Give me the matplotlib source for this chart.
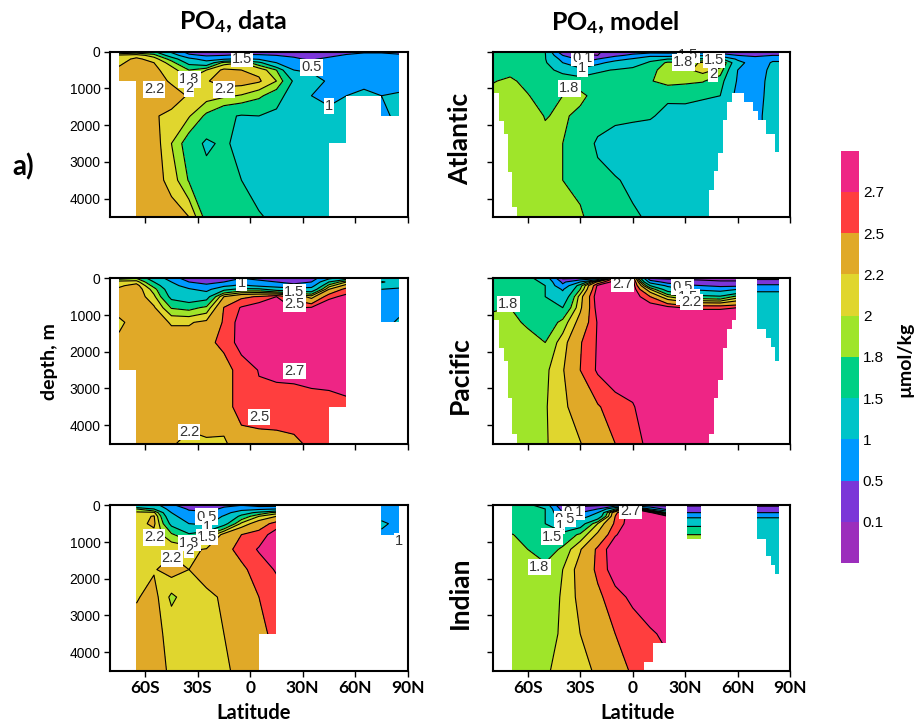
#!/usr/bin/env python3
import numpy as np
import matplotlib as mpl
mpl.use('Agg')
import matplotlib.pyplot as plt
from matplotlib.colors import ListedColormap, BoundaryNorm

plt.rcParams['font.family'] = ['Liberation Sans', 'DejaVu Sans']
plt.rcParams['mathtext.fontset'] = 'custom'
plt.rcParams['mathtext.rm'] = 'Lato:bold'
plt.rcParams['mathtext.default'] = 'rm'

# contour levels and their colours (umol/kg)
levels = [0.1, 0.5, 1, 1.5, 1.8, 2, 2.2, 2.5, 2.7]
level_names = ['0.1', '0.5', '1', '1.5', '1.8', '2', '2.2', '2.5', '2.7']
colors = ['#9C2EBC', '#7B36D8', '#0099FF', '#00C4C8', '#00D084',
          '#9FE52A', '#E0D62E', '#E0A928', '#FF3E3E', '#EE2585']

depth = [0, 100, 200, 300, 500, 800, 1200, 1750, 2500, 3500, 4500]
lat_data = list(range(-75, 86, 10))
lat_model = list(range(-80, 91, 10))
tick_lat = [-60, -30, 0, 30, 60, 90]
tick_names = ['60S', '30S', '0', '30N', '60N', '90N']
tick_depth = [0, 1000, 2000, 3000, 4000]

blank = [np.nan] * 11

# one row per latitude, one value per depth
atlantic_data = [
    [1.5, 2.05, 2.1, 2.15, 2.25, 2.3, 2.3, 2.3, 2.3, 2.3, 2.3],
    [1.6, 2.1, 2.25, 2.3, 2.35, 2.35, 2.4, 2.4, 2.35, 2.3, 2.3],
    [1.55, 1.9, 2.1, 2.2, 2.25, 2.3, 2.25, 2.22, 2.32, 2.3, 2.35],
    [.9, 1.3, 1.7, 1.9, 2.1, 2.17, 2.3, 2.15, 2.0, 2.12, 2.3],
    [.3, .6, 1.15, 1.4, 1.8, 2.05, 2.18, 2.02, 1.66, 1.78, 2.2],
    [.3, .45, .8, 1.2, 2.0, 2.18, 2.1, 1.75, 1.45, 1.6, 1.7],
    [.3, .5, .95, 1.9, 2.25, 2.3, 2.04, 1.55, 1.55, 1.6, 1.6],
    [.35, .55, 1.1, 2.0, 2.2, 2.3, 1.98, 1.48, 1.4, 1.5, 1.55],
    [.3, .55, .95, 1.6, 2.15, 2.23, 1.85, 1.5, 1.3, 1.4, 1.52],
    [.3, .5, .75, 1.0, 1.8, 2.0, 1.65, 1.42, 1.3, 1.3, 1.45],
    [.09, .45, .55, .7, 1.0, 1.45, 1.3, 1.2, 1.25, 1.25, 1.35],
    [.09, .35, .45, .6, .95, 1.15, 1.0, 1.1, 1.2, 1.2, 1.3],
    [.25, .4, .6, .7, .8, .95, .9, 1.1, 1.2, 1.2, 1.3],
    [.35, .55, .65, .7, .75, .9, 1.0, 1.1, 1.1, 1.1, 1.1],
    [.45, .6, .65, .7, .8, .9, 1.08, 1.1, 1.1, 1.1, 1.1],
    [.45, .6, .65, .7, .8, .85, 1.0, .9, .9, .9, .9],
    [.4, .55, .65, .7, .8, .9, 1.03, 1.1, 1.1, 1.1, 1.1],
]
pacific_data = [
    [1.7, 2.1, 2.15, 2.25, 2.3, 2.3, 2.15, 2.25, 2.3, 2.3, 2.3],
    [1.8, 2.1, 2.3, 2.35, 2.35, 2.35, 2.3, 2.3, 2.3, 2.3, 2.3],
    [1.3, 1.5, 1.7, 1.9, 2.05, 2.23, 2.3, 2.32, 2.32, 2.3, 2.3],
    [.8, 1.0, 1.15, 1.25, 1.4, 1.78, 2.18, 2.3, 2.35, 2.3, 2.22],
    [.2, .5, .8, 1.05, 1.25, 1.72, 2.18, 2.3, 2.32, 2.3, 2.15],
    [.2, .35, .6, .85, 1.35, 1.85, 2.25, 2.45, 2.35, 2.3, 2.18],
    [.3, .5, .9, 1.4, 2.2, 2.51, 2.53, 2.55, 2.42, 2.4, 2.15],
    [.5, .8, 1.1, 1.6, 2.45, 2.72, 2.8, 2.8, 2.58, 2.6, 2.4],
    [.4, .6, .9, 1.6, 2.52, 2.85, 2.85, 2.85, 2.71, 2.65, 2.4],
    [.3, .5, .8, 1.3, 2.7, 2.85, 2.85, 2.85, 2.73, 2.64, 2.42],
    [.2, .4, .6, 1.2, 2.4, 2.68, 2.85, 2.85, 2.73, 2.65, 2.45],
    [.3, .5, .8, 1.2, 2.1, 2.72, 2.85, 2.85, 2.74, 2.66, 2.55],
    [.9, 1.5, 1.9, 2.2, 2.65, 2.85, 2.85, 2.85, 2.75, 2.66, 2.55],
    [1.3, 2.0, 2.3, 2.6, 2.75, 2.85, 2.85, 2.85, 2.75, 2.68, 2.6],
    blank,
    [1.2, 1.55, 1.3, 1.0, .9, .7, .75, .8, .8, .8, .8],
    [1.2, 1.3, 1.1, .95, .75, .8, 1.1, 1.1, 1.1, 1.1, 1.1],
]
indian_data = [
    blank,
    [1.0, 1.8, 2.05, 2.1, 2.12, 2.15, 2.2, 2.17, 2.18, 2.3, 2.3],
    [1.2, 1.5, 2.05, 2.22, 2.25, 2.12, 2.15, 2.18, 2.28, 2.25, 2.25],
    [.6, .8, 1.0, 1.15, 1.4, 1.85, 2.15, 2.3, 1.95, 2.15, 2.18],
    [.2, .45, .6, .7, 1.0, 1.55, 2.15, 2.2, 2.12, 2.1, 2.1],
    [.2, .4, .55, .6, .9, 1.75, 2.22, 2.3, 2.15, 2.12, 2.12],
    [.45, .55, .8, 1.05, 1.35, 2.3, 2.42, 2.35, 2.23, 2.2, 2.17],
    [.5, .8, 1.3, 1.6, 2.05, 2.5, 2.58, 2.45, 2.38, 2.3, 2.25],
    [.3, .9, 1.6, 2.0, 2.35, 2.6, 2.72, 2.6, 2.5, 2.45, 2.4],
    [.3, 1.0, 1.9, 2.2, 2.6, 2.8, 2.85, 2.72, 2.6, 2.55, 2.4],
    blank, blank, blank, blank, blank,
    [.8, .8, .8, .85, 1.1, .9, .95, .95, .95, .95, .95],
    [.9, .75, .8, .8, .85, .9, 1.0, 1.0, 1.0, 1.0, 1.0],
]
atlantic_model = [
    [1.6, 1.62, 1.62, 1.65, 1.7, 1.79, 1.85, 1.85, 1.85, 1.85, 1.85],
    [1.6, 1.6, 1.62, 1.65, 1.75, 1.83, 1.85, 1.9, 1.9, 1.9, 1.9],
    [1.6, 1.6, 1.62, 1.62, 1.65, 1.75, 1.81, 1.9, 1.92, 1.92, 1.92],
    [1.5, 1.52, 1.52, 1.55, 1.6, 1.65, 1.72, 1.79, 1.85, 1.9, 1.9],
    [.1, .5, .85, 1.0, 1.4, 1.7, 1.8, 1.83, 1.8, 1.8, 1.9],
    [.05, .15, .4, .5, 1.2, 1.7, 1.85, 1.75, 1.7, 1.7, 1.85],
    [.05, .1, .5, .85, 1.45, 1.65, 1.72, 1.65, 1.45, 1.58, 1.62],
    [.3, .4, .8, 1.2, 1.52, 1.7, 1.68, 1.58, 1.35, 1.52, 1.58],
    [.3, .6, 1.05, 1.3, 1.6, 1.7, 1.65, 1.56, 1.3, 1.45, 1.53],
    [.3, .85, 1.4, 1.55, 1.72, 1.78, 1.65, 1.53, 1.3, 1.3, 1.47],
    [.3, .8, 1.5, 1.85, 1.92, 1.9, 1.55, 1.42, 1.28, 1.25, 1.2],
    [.3, .9, 1.5, 1.85, 1.95, 1.85, 1.6, 1.35, 1.25, 1.2, 1.2],
    [.3, .95, 1.55, 2.05, 2.08, 1.82, 1.55, 1.3, 1.2, 1.2, 1.2],
    [.2, .8, 1.6, 2.12, 1.95, 1.65, 1.5, 1.2, 1.2, 1.2, 1.2],
    [.1, .5, .9, 1.2, 1.0, .95, .85, .85, .85, .85, .85],
    [.25, .45, .6, .7, .8, .85, .85, .9, .9, .9, .9],
    [.25, .5, .9, 1.05, 1.1, 1.12, 1.15, 1.15, 1.15, 1.15, 1.15],
    [.25, .5, .9, 1.05, 1.1, 1.12, 1.15, 1.15, 1.15, 1.15, 1.15],
]
pacific_model = [
    [1.6, 1.62, 1.62, 1.65, 1.68, 1.78, 1.85, 1.88, 1.9, 1.9, 1.9],
    [1.6, 1.6, 1.6, 1.62, 1.7, 1.8, 1.85, 1.88, 1.9, 1.9, 1.9],
    [1.6, 1.6, 1.6, 1.62, 1.65, 1.7, 1.77, 1.87, 1.9, 1.9, 1.9],
    [1.3, 1.45, 1.5, 1.5, 1.5, 1.6, 1.6, 1.8, 1.95, 1.98, 1.98],
    [.05, .4, .6, .95, 1.2, 1.5, 1.88, 2.1, 2.18, 2.15, 2.1],
    [.1, 1.0, 1.7, 1.8, 2.1, 2.15, 2.3, 2.48, 2.5, 2.32, 2.19],
    [.3, 2.3, 2.75, 2.8, 2.85, 2.8, 2.72, 2.72, 2.73, 2.48, 2.35],
    [2.6, 2.85, 2.85, 2.85, 2.85, 2.85, 2.85, 2.85, 2.85, 2.6, 2.5],
    [2.7, 2.85, 2.85, 2.85, 2.85, 2.85, 2.85, 2.85, 2.85, 2.68, 2.63],
    [.1, .8, 1.5, 2.0, 2.5, 2.85, 2.85, 2.85, 2.85, 2.85, 2.75],
    [.05, .3, .9, 1.3, 2.0, 2.78, 2.85, 2.85, 2.85, 2.85, 2.85],
    [.05, .2, .6, 1.0, 1.8, 2.68, 2.85, 2.85, 2.85, 2.85, 2.85],
    [.05, .15, .5, .9, 1.6, 2.68, 2.85, 2.85, 2.85, 2.85, 2.85],
    [.05, .12, .4, .8, 1.55, 2.68, 2.85, 2.85, 2.85, 2.85, 2.85],
    [.05, .12, .4, 1.0, 1.9, 2.7, 2.85, 2.85, 2.85, 2.85, 2.85],
    [.05, .2, .6, .95, 1.1, 1.15, 1.2, 1.2, 1.2, 1.2, 1.2],
    [.05, .2, .6, .95, 1.1, 1.15, 1.2, 1.2, 1.2, 1.2, 1.2],
    [.05, .2, .6, .95, 1.1, 1.15, 1.2, 1.2, 1.2, 1.2, 1.2],
]
indian_model = [
    blank,
    [1.6, 1.6, 1.62, 1.62, 1.65, 1.82, 1.85, 1.9, 1.9, 1.9, 1.9],
    [1.6, 1.6, 1.6, 1.62, 1.62, 1.72, 1.8, 1.88, 1.9, 1.9, 1.9],
    [1.3, 1.5, 1.5, 1.5, 1.5, 1.6, 1.65, 1.88, 1.9, 1.92, 1.97],
    [.05, .3, .5, .7, 1.15, 1.6, 1.85, 2.0, 2.02, 2.03, 2.07],
    [.05, .2, .5, .8, 1.3, 1.85, 2.18, 2.3, 2.27, 2.2, 2.12],
    [.05, .5, 1.0, 1.2, 2.0, 2.25, 2.55, 2.55, 2.45, 2.37, 2.24],
    [.2, 1.5, 2.45, 2.5, 2.55, 2.68, 2.85, 2.82, 2.62, 2.5, 2.4],
    [.05, 2.75, 2.85, 2.85, 2.85, 2.85, 2.85, 2.85, 2.75, 2.58, 2.53],
    [.05, 1.0, 2.8, 2.85, 2.85, 2.85, 2.85, 2.85, 2.85, 2.67, 2.6],
    [.05, .3, 1.5, 2.72, 2.85, 2.85, 2.85, 2.85, 2.85, 2.75, 2.65],
    [.05, .3, .5, .9, 1.4, 1.8, 1.9, 1.9, 1.9, 1.9, 1.9],
    [.05, .3, .5, .9, 1.4, 1.8, 1.9, 1.9, 1.9, 1.9, 1.9],
    blank, blank,
    [.05, .25, .5, .95, 1.2, 1.3, 1.3, 1.3, 1.3, 1.3, 1.3],
    [.05, .25, .5, .95, 1.2, 1.3, 1.3, 1.3, 1.3, 1.3, 1.3],
    [.05, .25, .5, .95, 1.2, 1.3, 1.3, 1.3, 1.3, 1.3, 1.3],
]

# sea floor: latitude edges and deepest water depth between them
atlantic_data_edges = [-80, -75, -65, 45, 55, 75, 85, 90]
atlantic_data_floor = [0, 800, 4500, 2500, 1200, 1750, 0]
pacific_data_edges = [-80, -75, -65, 45, 55, 75, 85, 90]
pacific_data_floor = [0, 2500, 4500, 3500, 0, 1200, 0]
indian_data_edges = [-80, -65, 5, 15, 75, 85, 90]
indian_data_floor = [0, 4500, 3500, 0, 800, 0]
atlantic_model_edges = [-80, -76.2, -73.7, -71.2, -68.8, -66.3, 43.8, 46.5, 49, 51.6, 54.1,
                        56.6, 63.8, 69, 71.4, 76.4, 81.3, 83.8, 90]
atlantic_model_floor = [1118, 1880, 2255, 3273, 4227, 4500, 3773, 3245, 2755, 1864, 1364,
                        1118, 1364, 1618, 1864, 2255, 2745, 0]
pacific_model_edges = [-80, -76.2, -73.7, -71.2, -68.8, -66, 43.8, 46.5, 49, 51.6, 54.1, 56.6,
                       59, 71.2, 76.4, 78.9, 81.3, 83.8, 90]
pacific_model_floor = [1136, 1891, 2255, 3255, 4245, 4500, 4245, 3255, 2773, 1891, 1382, 1136,
                       0, 1382, 1636, 1882, 2255, 0]
indian_model_edges = [-80, -68.8, 6.5, 11.6, 19, 31.2, 38.9, 71.2, 76.4, 78.9, 81.3, 83.8, 90]
indian_model_floor = [0, 4500, 4260, 3750, 0, 907, 0, 907, 1380, 1624, 1878, 0]

# contour labels: latitude, depth, text
atlantic_data_labels = [(-4.8, 200, '1.5'), (34.9, 427, '0.5'), (-34.7, 755, '1.8'), (-34.9, 1000, '2'),
                        (-54.9, 1027, '2.2'), (-14.9, 1027, '2.2'), (45, 1480, '1')]
pacific_data_labels = [(-5, 136, '1'), (25.3, 380, '1.5'), (25.3, 700, '2.5'), (25.3, 2518, '2.7'),
                       (5.1, 3773, '2.5'), (-34.9, 4180, '2.2')]
indian_data_labels = [(-24.8, 309, '0.5'), (-24.8, 580, '1'), (-24.8, 855, '1.5'), (-54.9, 873, '2.2'),
                      (-34.7, 1036, '1.8'), (-34.9, 1218, '2'), (-44.8, 1445, '2.2'), (85, 964, '1')]
atlantic_model_labels = [(-28.8, 164, '0.1'), (-28.8, 455, '1'), (-36.2, 1000, '1.8'), (31.8, 90, '1.5'),
                         (29, 291, '1.8'), (46.5, 227, '1.5'), (46, 609, '2')]
pacific_model_labels = [(-71, 700, '1.8'), (-5.9, 155, '2.7'), (28.6, 245, '0.5'), (27.5, 500, '1'),
                        (31.8, 518, '1.5'), (33.7, 645, '2.2')]
indian_model_labels = [(-33.9, 172, '0.1'), (-1.1, 145, '2.7'), (-38.7, 380, '0.5'), (-41.5, 553, '1'),
                       (-46, 853, '1.5'), (-53.3, 1688, '1.8')]

W, H = 916.0, 726.0
fig = plt.figure(figsize=(W / 100, H / 100), dpi=100)

cmap = ListedColormap(colors)
bounds = [-5] + levels + [9]
norm = BoundaryNorm(bounds, cmap.N)


def px_axes(x0, y0, x1, y1):
    return fig.add_axes([x0 / W, 1 - y1 / H, (x1 - x0) / W, (y1 - y0) / H])


def panel(x0, y0, lat, values, edges, floor, labels, show_y, show_x):
    ax = px_axes(x0, y0, x0 + 297.5, y0 + 165.2)
    field = np.ma.masked_invalid(np.array(values).T)
    ax.contourf(lat, depth, field, levels=bounds, cmap=cmap, norm=norm, corner_mask=False)
    ax.contour(lat, depth, field, levels=levels, colors='k', linewidths=0.8, corner_mask=False)
    # white over everything below the sea floor
    ax.stairs(np.array(floor, dtype=float), edges, baseline=4500, fill=True, color='white', zorder=3)
    for lt, dp, txt in labels:
        ax.text(lt, dp, txt, fontsize=10.5, color='#333333', ha='center', va='center', zorder=4,
                bbox=dict(facecolor='white', edgecolor='none', pad=0.8))
    ax.set_xlim(-80, 90)
    ax.set_ylim(4500, 0)
    ax.set_xticks(tick_lat)
    ax.set_yticks(tick_depth)
    ax.tick_params(direction='out', length=4, width=1, labelsize=10, pad=3)
    for s in ax.spines.values():
        s.set_linewidth(1.5)
        s.set_zorder(5)
    if show_x:
        ax.set_xticklabels(tick_names, family='Lato', fontweight='bold', fontsize=12.5)
    else:
        ax.set_xticklabels([])
    if not show_y:
        ax.set_yticklabels([])
    return ax


panel(110.2, 51.7, lat_data, atlantic_data, atlantic_data_edges, atlantic_data_floor, atlantic_data_labels, True, False)
panel(110.2, 278.3, lat_data, pacific_data, pacific_data_edges, pacific_data_floor, pacific_data_labels, True, False)
panel(110.2, 505.3, lat_data, indian_data, indian_data_edges, indian_data_floor, indian_data_labels, True, True)
panel(492.7, 51.7, lat_model, atlantic_model, atlantic_model_edges, atlantic_model_floor, atlantic_model_labels, False, False)
panel(492.7, 278.3, lat_model, pacific_model, pacific_model_edges, pacific_model_floor, pacific_model_labels, False, False)
panel(492.7, 505.3, lat_model, indian_model, indian_model_edges, indian_model_floor, indian_model_labels, False, True)

# colour bar
cax = px_axes(841, 150.7, 858.7, 563)
cb_steps = np.arange(len(colors) + 1)
cax.pcolormesh([0, 1], cb_steps, np.arange(len(colors)).reshape(-1, 1), cmap=cmap, vmin=-0.5, vmax=len(colors) - 0.5)
cax.set_xticks([])
cax.yaxis.tick_right()
cax.set_yticks(cb_steps[1:-1])
cax.set_yticklabels(level_names, fontsize=11)
cax.tick_params(length=0, pad=3)
for s in cax.spines.values():
    s.set_visible(False)


def label(x, y, txt, size, rot=0):
    fig.text(x / W, 1 - y / H, txt, family='Lato', fontweight='bold', fontsize=size,
             rotation=rot, ha='center', va='center')


label(233, 22, 'PO$_4$, data', 18)
label(615, 23, 'PO$_4$, model', 18)
label(23, 167, 'a)', 20)
label(50, 362, 'depth, m', 14, 90)
label(460, 139, 'Atlantic', 19, 90)
label(460, 375, 'Pacific', 19, 90)
label(460, 593, 'Indian', 19, 90)
label(254, 713, 'Latitude', 14.5)
label(638, 713, 'Latitude', 14.5)
label(905, 359, '\u00b5mol/kg', 14, 90)

plt.savefig('out.png', dpi=100)
